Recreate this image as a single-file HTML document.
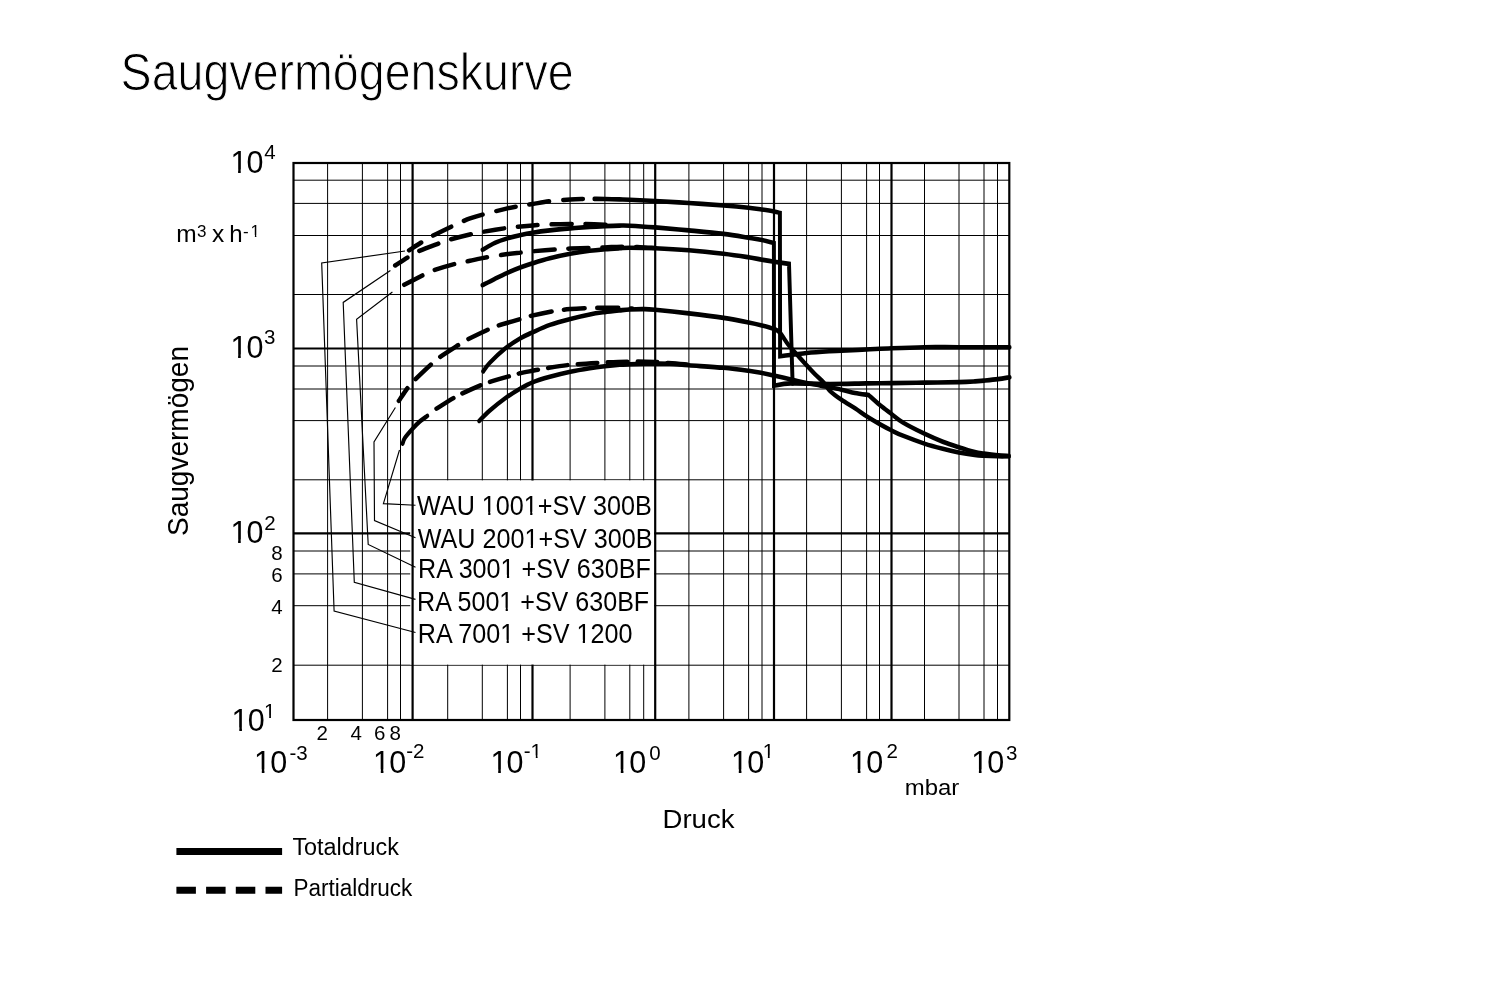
<!DOCTYPE html>
<html lang="de"><head><meta charset="utf-8"><title>Saugvermögenskurve</title>
<style>html,body{margin:0;padding:0;background:#fff}svg{display:block}text{font-family:"Liberation Sans",sans-serif;fill:#000}</style></head><body>
<svg width="1504" height="1006" viewBox="0 0 1504 1006">
<rect width="1504" height="1006" fill="#fff"/>
<g stroke="#000" stroke-width="1" fill="none">
<line x1="327.6" y1="163.0" x2="327.6" y2="720.0"/>
<line x1="362.4" y1="163.0" x2="362.4" y2="720.0"/>
<line x1="387.6" y1="163.0" x2="387.6" y2="720.0"/>
<line x1="400.5" y1="163.0" x2="400.5" y2="720.0"/>
<line x1="447.7" y1="163.0" x2="447.7" y2="720.0"/>
<line x1="482.3" y1="163.0" x2="482.3" y2="720.0"/>
<line x1="507.4" y1="163.0" x2="507.4" y2="720.0"/>
<line x1="520.5" y1="163.0" x2="520.5" y2="720.0"/>
<line x1="570.1" y1="163.0" x2="570.1" y2="720.0"/>
<line x1="604.9" y1="163.0" x2="604.9" y2="720.0"/>
<line x1="629.8" y1="163.0" x2="629.8" y2="720.0"/>
<line x1="643.7" y1="163.0" x2="643.7" y2="720.0"/>
<line x1="688.9" y1="163.0" x2="688.9" y2="720.0"/>
<line x1="723.6" y1="163.0" x2="723.6" y2="720.0"/>
<line x1="748.6" y1="163.0" x2="748.6" y2="720.0"/>
<line x1="762.0" y1="163.0" x2="762.0" y2="720.0"/>
<line x1="806.6" y1="163.0" x2="806.6" y2="720.0"/>
<line x1="841.4" y1="163.0" x2="841.4" y2="720.0"/>
<line x1="866.6" y1="163.0" x2="866.6" y2="720.0"/>
<line x1="879.5" y1="163.0" x2="879.5" y2="720.0"/>
<line x1="924.5" y1="163.0" x2="924.5" y2="720.0"/>
<line x1="959.0" y1="163.0" x2="959.0" y2="720.0"/>
<line x1="984.0" y1="163.0" x2="984.0" y2="720.0"/>
<line x1="997.5" y1="163.0" x2="997.5" y2="720.0"/>
<line x1="293.5" y1="180.2" x2="1009.3" y2="180.2"/>
<line x1="293.5" y1="203.4" x2="1009.3" y2="203.4"/>
<line x1="293.5" y1="235.5" x2="1009.3" y2="235.5"/>
<line x1="293.5" y1="294.5" x2="1009.3" y2="294.5"/>
<line x1="293.5" y1="366.0" x2="1009.3" y2="366.0"/>
<line x1="293.5" y1="389.0" x2="1009.3" y2="389.0"/>
<line x1="293.5" y1="420.6" x2="1009.3" y2="420.6"/>
<line x1="293.5" y1="479.8" x2="1009.3" y2="479.8"/>
<line x1="293.5" y1="551.0" x2="1009.3" y2="551.0"/>
<line x1="293.5" y1="573.9" x2="1009.3" y2="573.9"/>
<line x1="293.5" y1="605.7" x2="1009.3" y2="605.7"/>
<line x1="293.5" y1="665.2" x2="1009.3" y2="665.2"/>
</g>
<g stroke="#000" stroke-width="2.2" fill="none">
<line x1="293.5" y1="348.5" x2="1009.3" y2="348.5"/>
<line x1="293.5" y1="533.3" x2="1009.3" y2="533.3"/>
</g>
<rect x="410.2" y="480.4" width="244" height="184.2" fill="#fff"/>
<g stroke="#000" stroke-width="2.2" fill="none">
<line x1="412.6" y1="163.0" x2="412.6" y2="720.0"/>
<line x1="532.5" y1="163.0" x2="532.5" y2="480.4"/>
<line x1="532.5" y1="664.6" x2="532.5" y2="720.0"/>
<line x1="655.2" y1="163.0" x2="655.2" y2="720.0"/>
<line x1="774.0" y1="163.0" x2="774.0" y2="720.0"/>
<line x1="891.5" y1="163.0" x2="891.5" y2="720.0"/>
</g>
<rect x="293.5" y="163.0" width="715.8" height="557.0" fill="none" stroke="#000" stroke-width="2.2"/>
<g stroke="#000" stroke-width="1.15" fill="none">
<path d="M415.50 505.20 L383.40 503.60 L399.50 450.00"/>
<path d="M415.50 537.70 L374.50 520.50 L374.00 442.00 L395.40 407.50"/>
<path d="M415.50 567.30 L368.20 544.50 L356.60 319.30 L392.40 292.00"/>
<path d="M415.50 599.40 L354.30 582.40 L343.20 302.40 L390.40 270.50"/>
<path d="M415.50 632.50 L334.10 611.00 L321.70 263.00 L405.00 251.00"/>
</g>
<g transform="scale(0.86 1)" stroke="#000" stroke-width="4.6" fill="none" stroke-linejoin="miter" stroke-linecap="round">
<path d="M691.16 198.90 C693.18 198.92 698.37 198.92 703.26 199.00 C708.14 199.08 715.64 199.28 720.47 199.40 C725.29 199.52 725.33 199.43 732.21 199.70 C739.09 199.97 750.29 200.45 761.74 201.00 C773.20 201.55 787.67 202.25 800.93 203.00 C814.19 203.75 829.69 204.70 841.28 205.50 C852.87 206.30 863.00 207.13 870.47 207.80 C877.93 208.47 881.12 208.90 886.05 209.50 C890.97 210.10 896.53 210.83 900.00 211.40 C903.47 211.97 905.72 212.65 906.86 212.90 L906.86 212.90 L907.09 356.20 L907.09 356.20 C912.23 355.67 928.24 353.83 937.91 353.00 C947.58 352.17 958.35 351.58 965.12 351.20 C971.88 350.82 971.43 350.98 978.49 350.70 C985.54 350.42 997.73 349.92 1007.44 349.50 C1017.15 349.08 1025.54 348.58 1036.74 348.20 C1047.95 347.82 1061.67 347.37 1074.65 347.20 C1087.64 347.03 1098.10 347.20 1114.65 347.20 C1131.20 347.20 1164.07 347.20 1173.95 347.20"/>
<path d="M561.05 249.80 C563.45 248.65 570.64 244.80 575.47 242.90 C580.29 241.00 584.96 239.73 590.00 238.40 C595.04 237.07 600.81 235.85 605.70 234.90 C610.58 233.95 613.70 233.45 619.30 232.70 C624.90 231.95 632.02 231.12 639.30 230.40 C646.59 229.68 655.29 228.98 663.02 228.40 C670.76 227.82 678.99 227.28 685.70 226.90 C692.40 226.52 697.46 226.32 703.26 226.10 C709.05 225.88 715.64 225.67 720.47 225.60 C725.29 225.53 725.33 225.40 732.21 225.70 C739.09 226.00 750.29 226.62 761.74 227.40 C773.20 228.18 787.67 229.32 800.93 230.40 C814.19 231.48 829.69 232.68 841.28 233.90 C852.87 235.12 863.00 236.68 870.47 237.70 C877.93 238.72 881.14 239.10 886.05 240.00 C890.95 240.90 897.58 242.58 899.88 243.10 L899.88 243.10 L900.00 385.70 L900.00 385.70 C903.28 385.32 908.80 383.68 919.65 383.40 C930.50 383.12 950.48 384.00 965.12 384.00 C979.75 384.00 995.50 383.55 1007.44 383.40 C1019.38 383.25 1025.50 383.23 1036.74 383.10 C1047.98 382.97 1061.82 382.77 1074.88 382.60 C1087.95 382.43 1105.31 382.30 1115.12 382.10 C1124.92 381.90 1128.90 381.65 1133.72 381.40 C1138.55 381.15 1139.63 380.98 1144.07 380.60 C1148.51 380.22 1155.37 379.65 1160.35 379.10 C1165.33 378.55 1171.69 377.60 1173.95 377.30"/>
<path d="M561.05 285.20 C563.45 284.13 570.64 280.87 575.47 278.80 C580.29 276.73 584.96 274.72 590.00 272.80 C595.04 270.88 600.81 268.88 605.70 267.30 C610.58 265.72 613.70 264.80 619.30 263.30 C624.90 261.80 632.02 259.88 639.30 258.30 C646.59 256.72 655.29 255.05 663.02 253.80 C670.76 252.55 678.99 251.55 685.70 250.80 C692.40 250.05 697.46 249.72 703.26 249.30 C709.05 248.88 715.64 248.55 720.47 248.30 C725.29 248.05 725.33 247.80 732.21 247.80 C739.09 247.80 750.29 247.88 761.74 248.30 C773.20 248.72 787.67 249.38 800.93 250.30 C814.19 251.22 829.69 252.63 841.28 253.80 C852.87 254.97 863.00 256.32 870.47 257.30 C877.93 258.28 881.12 258.97 886.05 259.70 C890.97 260.43 894.77 261.00 900.00 261.70 C905.23 262.40 914.53 263.53 917.44 263.90 L917.44 263.90 L921.63 383.50"/>
<path d="M561.86 371.40 C563.12 369.98 565.25 366.65 569.42 362.90 C573.59 359.15 580.99 352.97 586.86 348.90 C592.73 344.83 599.26 341.25 604.65 338.50 C610.04 335.75 613.39 334.67 619.19 332.40 C624.98 330.13 632.07 327.15 639.42 324.90 C646.76 322.65 655.52 320.65 663.26 318.90 C670.99 317.15 679.19 315.53 685.81 314.40 C692.44 313.27 697.23 312.77 703.02 312.10 C708.82 311.43 715.72 310.83 720.58 310.40 C725.45 309.97 727.56 309.72 732.21 309.50 C736.86 309.28 743.57 309.05 748.49 309.10 C753.41 309.15 752.98 309.08 761.74 309.80 C770.50 310.52 787.77 312.05 801.05 313.40 C814.32 314.75 829.81 316.40 841.40 317.90 C852.98 319.40 863.16 321.15 870.58 322.40 C878.00 323.65 881.05 324.32 885.93 325.40 C890.81 326.48 896.41 327.72 899.88 328.90 C903.35 330.08 903.91 329.82 906.74 332.50 C909.57 335.18 913.55 341.33 916.86 345.00 C920.17 348.67 923.12 351.12 926.63 354.50 C930.14 357.88 934.44 362.05 937.91 365.30 C941.38 368.55 944.11 371.10 947.44 374.00 C950.78 376.90 954.96 379.88 957.91 382.70 C960.85 385.52 961.69 388.05 965.12 390.90 C968.55 393.75 973.64 396.90 978.49 399.80 C983.33 402.70 989.24 405.52 994.19 408.30 C999.13 411.08 1003.35 413.87 1008.14 416.50 C1012.93 419.13 1018.12 421.77 1022.91 424.10 C1027.69 426.43 1032.36 428.57 1036.86 430.50 C1041.36 432.43 1043.55 433.52 1049.88 435.70 C1056.22 437.88 1067.15 441.42 1074.88 443.60 C1082.62 445.78 1089.63 447.33 1096.28 448.80 C1102.93 450.27 1108.59 451.37 1114.77 452.40 C1120.95 453.43 1128.49 454.43 1133.37 455.00 C1138.26 455.57 1139.57 455.58 1144.07 455.80 C1148.57 456.02 1155.50 456.22 1160.35 456.30 C1165.19 456.38 1171.01 456.30 1173.14 456.30"/>
<path d="M557.21 420.90 C559.24 419.18 564.48 414.32 569.42 410.60 C574.36 406.88 581.07 402.20 586.86 398.60 C592.66 395.00 598.80 391.72 604.19 389.00 C609.57 386.28 613.31 384.33 619.19 382.30 C625.06 380.27 632.07 378.55 639.42 376.80 C646.76 375.05 655.52 373.22 663.26 371.80 C670.99 370.38 679.19 369.22 685.81 368.30 C692.44 367.38 697.23 366.88 703.02 366.30 C708.82 365.72 715.72 365.13 720.58 364.80 C725.45 364.47 727.56 364.47 732.21 364.30 C736.86 364.13 743.55 363.92 748.49 363.80 C753.43 363.68 756.78 363.60 761.86 363.60 C766.94 363.60 772.42 363.52 778.95 363.80 C785.48 364.08 790.64 364.63 801.05 365.30 C811.45 365.97 829.81 366.88 841.40 367.80 C852.98 368.72 863.16 369.93 870.58 370.80 C878.00 371.67 881.05 372.20 885.93 373.00 C890.81 373.80 894.26 374.53 899.88 375.60 C905.50 376.67 913.31 378.17 919.65 379.40 C925.99 380.63 932.11 381.95 937.91 383.00 C943.70 384.05 947.66 384.58 954.42 385.70 C961.18 386.82 971.88 388.50 978.49 389.70 C985.10 390.90 988.82 392.02 994.07 392.90 C999.32 393.78 1007.34 394.65 1010.00 395.00 L1010.00 395.00 C1012.15 396.65 1018.43 401.72 1022.91 404.90 C1027.38 408.08 1032.36 411.17 1036.86 414.10 C1041.36 417.03 1043.55 419.23 1049.88 422.50 C1056.22 425.77 1067.15 430.50 1074.88 433.70 C1082.62 436.90 1089.63 439.45 1096.28 441.70 C1102.93 443.95 1108.59 445.48 1114.77 447.20 C1120.95 448.92 1128.49 450.93 1133.37 452.00 C1138.26 453.07 1139.57 453.05 1144.07 453.60 C1148.57 454.15 1155.50 454.90 1160.35 455.30 C1165.19 455.70 1171.01 455.88 1173.14 456.00"/>
<path d="M468.14 443.60 C468.59 442.65 468.82 440.43 470.81 437.90 C472.81 435.37 477.21 431.15 480.12 428.40 C483.02 425.65 485.47 423.48 488.26 421.40 C491.05 419.32 495.43 416.82 496.86 415.90"/>
</g>
<g stroke="#000" stroke-width="4.5" fill="none" stroke-linecap="round">
<path d="M409.10 250.30 C411.17 248.97 418.03 244.48 421.50 242.30 C424.97 240.12 424.85 239.85 429.90 237.20 C434.95 234.55 446.68 228.87 451.80 226.40 C456.92 223.93 457.57 223.73 460.60 222.40 C463.63 221.07 466.35 219.70 470.00 218.40 C473.65 217.10 476.27 216.27 482.50 214.60 C488.73 212.93 501.00 209.87 507.40 208.40 C513.80 206.93 516.70 206.53 520.90 205.80 C525.10 205.07 527.78 204.77 532.60 204.00 C537.42 203.23 543.53 201.95 549.80 201.20 C556.07 200.45 564.55 199.87 570.20 199.50 C575.85 199.13 579.67 199.10 583.70 199.00 C587.73 198.90 592.62 198.92 594.40 198.90" stroke-dasharray="19.8 14.1" stroke-dashoffset="5.5"/>
<path d="M395.20 265.50 C397.45 264.03 405.05 258.97 408.70 256.70 C412.35 254.43 411.92 254.17 417.10 251.90 C422.28 249.63 434.55 245.10 439.80 243.10 C445.05 241.10 443.13 241.45 448.60 239.90 C454.07 238.35 466.95 235.13 472.60 233.80 C478.25 232.47 476.70 232.88 482.50 231.90 C488.30 230.92 501.00 228.82 507.40 227.90 C513.80 226.98 516.70 226.82 520.90 226.40 C525.10 225.98 527.78 225.73 532.60 225.40 C537.42 225.07 543.53 224.65 549.80 224.40 C556.07 224.15 564.55 223.98 570.20 223.90 C575.85 223.82 577.93 223.77 583.70 223.90 C589.47 224.03 600.08 224.48 604.80 224.70 C609.52 224.92 610.80 225.12 612.00 225.20" stroke-dasharray="19.8 14.1" stroke-dashoffset="5.4"/>
<path d="M403.10 285.40 C406.57 283.62 418.83 277.22 423.90 274.70 C428.97 272.18 428.05 272.17 433.50 270.30 C438.95 268.43 450.52 265.08 456.60 263.50 C462.68 261.92 465.68 261.70 470.00 260.80 C474.32 259.90 476.27 259.22 482.50 258.10 C488.73 256.98 501.00 255.02 507.40 254.10 C513.80 253.18 516.70 253.07 520.90 252.60 C525.10 252.13 526.53 251.85 532.60 251.30 C538.67 250.75 551.03 249.75 557.30 249.30 C563.57 248.85 564.55 248.85 570.20 248.60 C575.85 248.35 585.57 248.00 591.20 247.80 C596.83 247.60 600.03 247.53 604.00 247.40 C607.97 247.27 611.33 247.10 615.00 247.00 C618.67 246.90 621.83 246.77 626.00 246.80 C630.17 246.83 635.17 247.00 640.00 247.20 C644.83 247.40 652.50 247.87 655.00 248.00" stroke-dasharray="19.8 14.1" stroke-dashoffset="32.3"/>
<path d="M398.90 400.80 C400.07 399.05 403.65 393.38 405.90 390.30 C408.15 387.22 408.57 386.28 412.40 382.30 C416.23 378.32 424.75 370.30 428.90 366.40 C433.05 362.50 432.73 362.23 437.30 358.90 C441.87 355.57 451.55 349.48 456.30 346.40 C461.05 343.32 460.82 343.05 465.80 340.40 C470.78 337.75 481.05 332.90 486.20 330.50 C491.35 328.10 490.97 327.92 496.70 326.00 C502.43 324.08 515.30 320.60 520.60 319.00 C525.90 317.40 523.20 317.67 528.50 316.40 C533.80 315.13 545.42 312.62 552.40 311.40 C559.38 310.18 564.75 309.63 570.40 309.10 C576.05 308.57 580.60 308.43 586.30 308.20 C592.00 307.97 598.87 307.77 604.60 307.70 C610.33 307.63 616.13 307.67 620.70 307.80 C625.27 307.93 630.12 308.38 632.00 308.50" stroke-dasharray="20.9 12.5" stroke-dashoffset="5.9"/>
<path d="M435.30 409.40 C438.38 407.48 449.47 400.48 453.80 397.90 C458.13 395.32 456.82 396.00 461.30 393.90 C465.78 391.80 476.13 387.23 480.70 385.30 C485.27 383.37 483.97 383.80 488.70 382.30 C493.43 380.80 503.88 377.80 509.10 376.30 C514.32 374.80 516.10 374.22 520.00 373.30 C523.90 372.38 528.18 371.63 532.50 370.80 C536.82 369.97 539.58 369.30 545.90 368.30 C552.22 367.30 561.50 365.72 570.40 364.80 C579.30 363.88 589.42 363.33 599.30 362.80 C609.18 362.27 620.40 361.73 629.70 361.60 C639.00 361.47 648.72 361.77 655.10 362.00 C661.48 362.23 663.85 362.68 668.00 363.00 C672.15 363.32 676.00 363.58 680.00 363.90 C684.00 364.22 690.00 364.73 692.00 364.90" stroke-dasharray="19.4 10.5" stroke-dashoffset="28.1"/>
</g>
<text x="120.6" y="90.0" font-size="51.0" textLength="453.0" lengthAdjust="spacingAndGlyphs" stroke="#fff" stroke-width="1.0">Saugvermögenskurve</text>
<text x="417.1" y="515.0" font-size="27.5" textLength="234.8" lengthAdjust="spacingAndGlyphs">WAU 1001+SV 300B</text>
<text x="417.7" y="547.5" font-size="27.5" textLength="234.8" lengthAdjust="spacingAndGlyphs">WAU 2001+SV 300B</text>
<text x="418.1" y="578.0" font-size="27.5" textLength="232.8" lengthAdjust="spacingAndGlyphs">RA 3001 +SV 630BF</text>
<text x="417.1" y="610.5" font-size="27.5" textLength="232.1" lengthAdjust="spacingAndGlyphs">RA 5001 +SV 630BF</text>
<text x="417.8" y="643.0" font-size="27.5" textLength="214.6" lengthAdjust="spacingAndGlyphs">RA 7001 +SV 1200</text>
<rect x="482.53" y="511.73" width="5.68" height="3.77" fill="#fff"/>
<rect x="490.40" y="511.73" width="5.10" height="3.77" fill="#fff"/>
<rect x="524.52" y="511.73" width="5.68" height="3.77" fill="#fff"/>
<rect x="532.39" y="511.73" width="5.10" height="3.77" fill="#fff"/>
<rect x="525.12" y="544.73" width="5.68" height="3.77" fill="#fff"/>
<rect x="532.99" y="544.73" width="5.10" height="3.77" fill="#fff"/>
<rect x="501.26" y="574.73" width="5.68" height="3.77" fill="#fff"/>
<rect x="509.13" y="574.73" width="5.09" height="3.77" fill="#fff"/>
<rect x="500.01" y="607.73" width="5.66" height="3.77" fill="#fff"/>
<rect x="507.85" y="607.73" width="5.08" height="3.77" fill="#fff"/>
<rect x="500.94" y="639.73" width="5.68" height="3.77" fill="#fff"/>
<rect x="508.81" y="639.73" width="5.09" height="3.77" fill="#fff"/>
<rect x="577.11" y="639.73" width="5.68" height="3.77" fill="#fff"/>
<rect x="584.98" y="639.73" width="5.09" height="3.77" fill="#fff"/>
<text font-size="30.5"><tspan x="230.4 246.5" y="173">10</tspan><tspan x="264.2" y="159" font-size="20.5">4</tspan></text>
<rect x="231.30" y="169.40" width="6.79" height="4.10" fill="#fff"/>
<rect x="240.74" y="169.40" width="6.20" height="4.10" fill="#fff"/>
<text font-size="30.5"><tspan x="230.4 246.5" y="358">10</tspan><tspan x="264.1" y="344" font-size="20.5">3</tspan></text>
<rect x="231.30" y="354.40" width="6.79" height="4.10" fill="#fff"/>
<rect x="240.74" y="354.40" width="6.20" height="4.10" fill="#fff"/>
<text font-size="30.5"><tspan x="230.4 246.5" y="543">10</tspan><tspan x="264.3" y="530" font-size="20.5">2</tspan></text>
<rect x="231.30" y="539.40" width="6.79" height="4.10" fill="#fff"/>
<rect x="240.74" y="539.40" width="6.20" height="4.10" fill="#fff"/>
<text font-size="30.5"><tspan x="231.6 247.7" y="731">10</tspan><tspan x="264.0" y="718" font-size="20.5">1</tspan></text>
<rect x="232.50" y="727.40" width="6.79" height="4.10" fill="#fff"/>
<rect x="241.94" y="727.40" width="6.20" height="4.10" fill="#fff"/>
<rect x="264.47" y="715.51" width="4.69" height="2.99" fill="#fff"/>
<rect x="270.95" y="715.51" width="4.50" height="2.99" fill="#fff"/>
<text font-size="30.5"><tspan x="254.1 270.2" y="773">10</tspan><tspan x="289.4" y="760" font-size="20.5">-3</tspan></text>
<rect x="255.00" y="769.40" width="6.79" height="4.10" fill="#fff"/>
<rect x="264.44" y="769.40" width="6.20" height="4.10" fill="#fff"/>
<text font-size="30.5"><tspan x="373.1 389.2" y="773">10</tspan><tspan x="406.3" y="758" font-size="20.5">-2</tspan></text>
<rect x="374.00" y="769.40" width="6.79" height="4.10" fill="#fff"/>
<rect x="383.44" y="769.40" width="6.20" height="4.10" fill="#fff"/>
<text font-size="30.5"><tspan x="490.5 506.6" y="773">10</tspan><tspan x="523.8" y="758" font-size="20.5">-1</tspan></text>
<rect x="491.40" y="769.40" width="6.79" height="4.10" fill="#fff"/>
<rect x="500.84" y="769.40" width="6.20" height="4.10" fill="#fff"/>
<rect x="531.10" y="755.51" width="4.69" height="2.99" fill="#fff"/>
<rect x="537.58" y="755.51" width="4.50" height="2.99" fill="#fff"/>
<text font-size="30.5"><tspan x="613.1 629.2" y="773">10</tspan><tspan x="649.3" y="760" font-size="20.5">0</tspan></text>
<rect x="614.00" y="769.40" width="6.79" height="4.10" fill="#fff"/>
<rect x="623.44" y="769.40" width="6.20" height="4.10" fill="#fff"/>
<text font-size="30.5"><tspan x="731.1 747.2" y="773">10</tspan><tspan x="762.7" y="758" font-size="20.5">1</tspan></text>
<rect x="732.00" y="769.40" width="6.79" height="4.10" fill="#fff"/>
<rect x="741.44" y="769.40" width="6.20" height="4.10" fill="#fff"/>
<rect x="763.17" y="755.51" width="4.69" height="2.99" fill="#fff"/>
<rect x="769.65" y="755.51" width="4.50" height="2.99" fill="#fff"/>
<text font-size="30.5"><tspan x="850.1 866.2" y="773">10</tspan><tspan x="886.4" y="758" font-size="20.5">2</tspan></text>
<rect x="851.00" y="769.40" width="6.79" height="4.10" fill="#fff"/>
<rect x="860.44" y="769.40" width="6.20" height="4.10" fill="#fff"/>
<text font-size="30.5"><tspan x="971.2 987.3" y="773">10</tspan><tspan x="1005.9" y="760" font-size="20.5">3</tspan></text>
<rect x="972.10" y="769.40" width="6.79" height="4.10" fill="#fff"/>
<rect x="981.54" y="769.40" width="6.20" height="4.10" fill="#fff"/>
<text x="271.2" y="560.0" font-size="20.5">8</text>
<text x="271.2" y="582.0" font-size="20.5">6</text>
<text x="271.2" y="614.0" font-size="20.5">4</text>
<text x="271.2" y="672.0" font-size="20.5">2</text>
<text x="316.4" y="740.0" font-size="20.5">2</text>
<text x="350.5" y="740.0" font-size="20.5">4</text>
<text x="374.0" y="740.0" font-size="20.5">6</text>
<text x="389.5" y="740.0" font-size="20.5">8</text>
<text font-size="24.5"><tspan x="176.3" y="242">m</tspan><tspan x="197" y="237" font-size="17">3</tspan> <tspan x="212" y="242">x</tspan> <tspan x="229.3" y="242" font-size="24">h</tspan><tspan x="243.1" y="237" font-size="17">-</tspan><tspan x="250.6" y="237" font-size="17">1</tspan></text>
<rect x="250.92" y="234.90" width="3.96" height="2.60" fill="#fff"/>
<rect x="256.36" y="234.90" width="3.90" height="2.60" fill="#fff"/>
<text x="662.5" y="828.0" font-size="26.5" textLength="72.0" lengthAdjust="spacingAndGlyphs">Druck</text>
<text x="904.8" y="795.0" font-size="22.5" textLength="54.5" lengthAdjust="spacingAndGlyphs">mbar</text>
<text transform="translate(187.6,536) rotate(-90)" font-size="30" textLength="190" lengthAdjust="spacingAndGlyphs">Saugvermögen</text>
<line x1="176.4" y1="851.5" x2="282.1" y2="851.5" stroke="#000" stroke-width="7"/>
<line x1="176.4" y1="890.2" x2="282.1" y2="890.2" stroke="#000" stroke-width="7" stroke-dasharray="19.5 10.2"/>
<text x="292.4" y="855.0" font-size="23.0" textLength="106.5" lengthAdjust="spacingAndGlyphs">Totaldruck</text>
<text x="293.4" y="896.0" font-size="23.0" textLength="119.0" lengthAdjust="spacingAndGlyphs">Partialdruck</text>
</svg></body></html>
